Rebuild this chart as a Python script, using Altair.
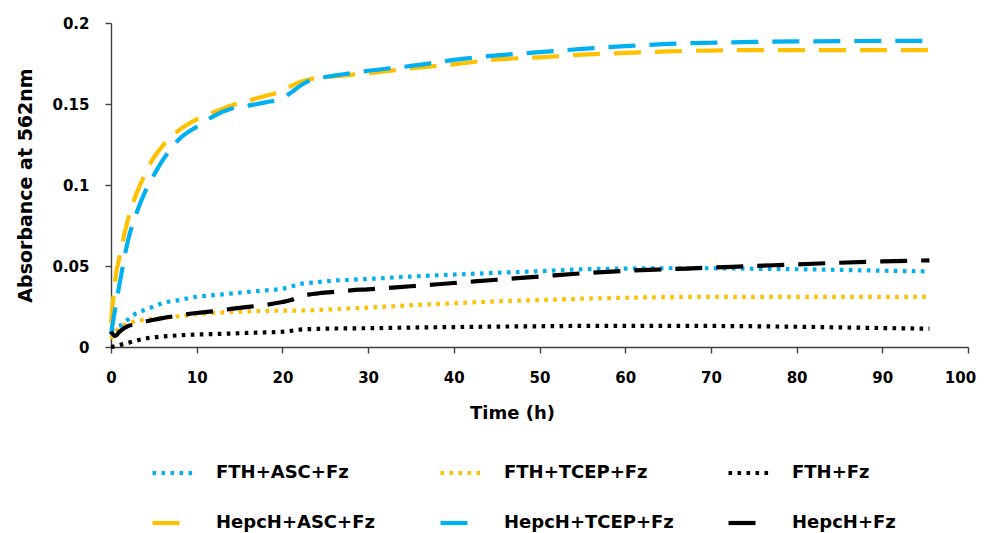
import altair as alt
import pandas as pd

# ---- data ----
times = [0, 0.5, 1, 2, 3, 4, 5, 6, 8, 10, 12, 14, 16, 18, 20, 21, 22, 23, 24, 26,
         28, 30, 35, 40, 45, 50, 55, 60, 65, 70, 75, 80, 85, 90, 95.5]

fth_asc = [0.0105, 0.012, 0.013, 0.017, 0.021, 0.023, 0.025, 0.027, 0.029, 0.031,
           0.032, 0.033, 0.034, 0.035, 0.036, 0.0372, 0.0388, 0.0395, 0.040, 0.041,
           0.0415, 0.042, 0.0435, 0.0447, 0.0458, 0.0468, 0.048, 0.0484, 0.0486, 0.0486,
           0.0483, 0.048, 0.0476, 0.0471, 0.0466]
fth_tcep = [0.005, 0.009, 0.012, 0.0145, 0.016, 0.0168, 0.0175, 0.018, 0.019, 0.0203,
            0.021, 0.0216, 0.022, 0.0223, 0.0224, 0.0224, 0.0224, 0.0226, 0.0228, 0.0233,
            0.0238, 0.0243, 0.0258, 0.027, 0.0282, 0.029, 0.0298, 0.0304, 0.0308, 0.031,
            0.031, 0.031, 0.031, 0.031, 0.031]
fth_fz = [0.0, 0.0005, 0.0012, 0.0025, 0.004, 0.0052, 0.006, 0.0065, 0.0072, 0.0077,
          0.008, 0.0083, 0.0087, 0.009, 0.0094, 0.010, 0.0107, 0.011, 0.0112, 0.0114,
          0.0115, 0.0116, 0.012, 0.0123, 0.0126, 0.0128, 0.013, 0.013, 0.0131, 0.013,
          0.0128, 0.0125, 0.0121, 0.0117, 0.0113]
hepc_asc = [0.015, 0.042, 0.056, 0.079, 0.095, 0.107, 0.117, 0.124, 0.134, 0.1405,
            0.145, 0.149, 0.152, 0.155, 0.158, 0.161, 0.1635, 0.165, 0.166, 0.167,
            0.168, 0.169, 0.172, 0.1745, 0.1775, 0.1788, 0.1805, 0.1815, 0.1825, 0.183,
            0.1833, 0.1833, 0.1833, 0.1833, 0.1833]
hepc_tcep = [0.008, 0.024, 0.039, 0.066, 0.083, 0.096, 0.106, 0.115, 0.1285, 0.136,
             0.1425, 0.147, 0.149, 0.151, 0.1535, 0.157, 0.161, 0.164, 0.1655, 0.1675,
             0.169, 0.1705, 0.1735, 0.1772, 0.18, 0.182, 0.184, 0.1857, 0.1871, 0.1878,
             0.1883, 0.1886, 0.1888, 0.189, 0.189]
hepc_fz = [0.0095, 0.0068, 0.0095, 0.013, 0.014, 0.0156, 0.0168, 0.0178, 0.0195, 0.021,
           0.022, 0.0235, 0.0248, 0.026, 0.0278, 0.029, 0.031, 0.0323, 0.033, 0.034,
           0.035, 0.0356, 0.0375, 0.0395, 0.0415, 0.0435, 0.0455, 0.047, 0.048, 0.049,
           0.050, 0.051, 0.052, 0.0528, 0.0535]

series_names = ["FTH+ASC+Fz", "FTH+TCEP+Fz", "FTH+Fz",
                "HepcH+ASC+Fz", "HepcH+TCEP+Fz", "HepcH+Fz"]
series_values = [fth_asc, fth_tcep, fth_fz, hepc_asc, hepc_tcep, hepc_fz]
series_colors = ["#00B0F0", "#FFC000", "#000000", "#FFC000", "#00B0F0", "#000000"]

x_ticks = list(range(0, 101, 10))
y_ticks = [0, 0.05, 0.1, 0.15, 0.2]

rows = []
for name, vals in zip(series_names, series_values):
    for t, v in zip(times, vals):
        rows.append({"time": t, "absorbance": v, "series": name})
df = pd.DataFrame(rows)

FONT = "DejaVu Sans"

dot = [3.6, 5.4]
dash = [27, 14]
dashes = [dot, dot, dot, dash, dash, dash]

legend = alt.Legend(
    title=None, orient="none", legendX=39, legendY=427, columns=3,
    direction="horizontal", symbolType="stroke", symbolSize=1681,
    symbolStrokeWidth=4.2, labelFont=FONT, labelFontSize=18,
    labelFontWeight="bold", labelColor="black", labelLimit=400,
    labelOffset=20, columnPadding=46, rowPadding=18, gridAlign="all",
    padding=0,
)

chart = alt.Chart(df).mark_line(
    strokeWidth=4.2, strokeCap="butt", interpolate="monotone"
).encode(
    x=alt.X("time:Q",
            scale=alt.Scale(domain=[0, 100], nice=False),
            axis=alt.Axis(values=x_ticks, title="Time (h)", titleX=401, titleY=66,
                          titleBaseline="middle", titleAlign="center",
                          labelPadding=17, labelFlush=False,
                          labelOffset={"condition": {"test": "datum.value == 100", "value": -8},
                                       "value": 0})),
    y=alt.Y("absorbance:Q",
            scale=alt.Scale(domain=[0, 0.2], nice=False),
            axis=alt.Axis(values=y_ticks, format="~g", title="Absorbance at 562nm",
                          titleX=-86, titleY=162, titleAngle=270,
                          titleBaseline="middle", titleAlign="center",
                          titleFontSize=19,
                          labelPadding=16, labelFlush=False)),
    color=alt.Color("series:N",
                    scale=alt.Scale(domain=series_names, range=series_colors),
                    legend=legend),
    strokeDash=alt.StrokeDash("series:N",
                              scale=alt.Scale(domain=series_names, range=dashes),
                              legend=legend),
    order=alt.Order("time:Q"),
).properties(
    width=857, height=324,
    autosize=alt.AutoSizeParams(type="none"),
    padding={"left": 103, "top": 15, "right": 9, "bottom": 186},
).configure_view(
    stroke=None
).configure_axis(
    grid=False,
    domainColor="#404040", domainWidth=1.4,
    tickColor="#404040", tickWidth=1.4, tickSize=6,
    labelFont=FONT, labelFontSize=15, labelFontWeight="bold", labelColor="black",
    titleFont=FONT, titleFontSize=18, titleFontWeight="bold", titleColor="black",
)

chart.save("out.html", embed_options={"renderer": "svg", "actions": False})
